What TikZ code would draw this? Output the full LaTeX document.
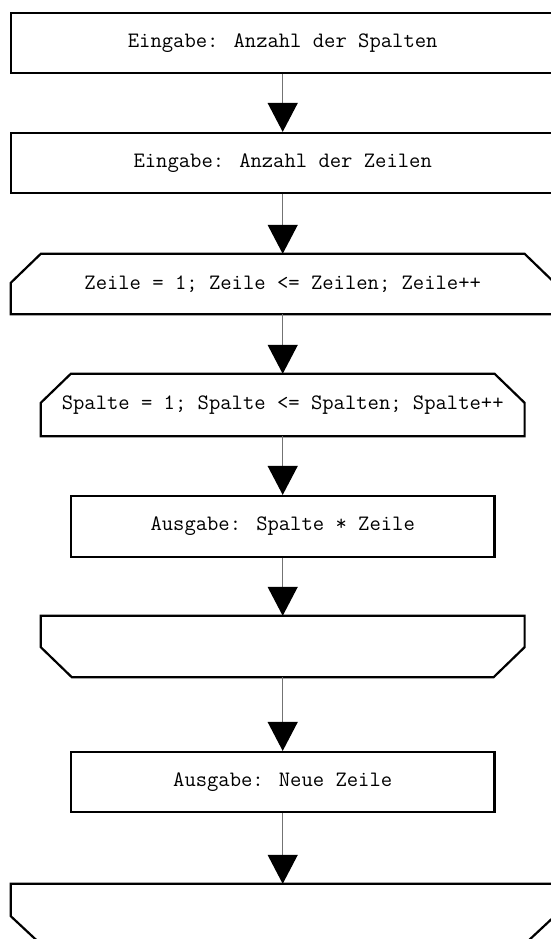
\documentclass[tikz,border=0pt]{standalone}
\usetikzlibrary{arrows.meta}
\begin{document}
\begin{tikzpicture}[x=1pt,y=-1pt,
  boxline/.style={draw=black, line width=2.2pt, line join=miter},
  blk/.style={rectangle, inner sep=0pt, font=\fontsize{22}{26}\selectfont\ttfamily},
  conn/.style={draw=black!55, line width=1.3pt, -{Triangle[width=30pt,length=29pt,color=black]}}]
\useasboundingbox (0,0) rectangle (550,939);
% plain boxes
\node[blk, boxline, minimum width=543.4pt, minimum height=60pt] (b1) at (282.7,43) {Eingabe: Anzahl der Spalten};
\node[blk, boxline, minimum width=543.4pt, minimum height=60pt] (b2) at (282.7,163) {Eingabe: Anzahl der Zeilen};
% loop head 1
\node[blk, minimum width=543.4pt, minimum height=60pt] (h1) at (282.7,284) {Zeile = 1; Zeile <= Zeilen; Zeile++};
\draw[boxline] ([xshift=30pt]h1.north west) -- ([xshift=-30pt]h1.north east) -- ([yshift=-29pt]h1.north east) -- (h1.south east) -- (h1.south west) -- ([yshift=-29pt]h1.north west) -- cycle;
% loop head 2
\node[blk, minimum width=483.4pt, minimum height=62pt] (h2) at (282.7,405) {Spalte = 1; Spalte <= Spalten; Spalte++};
\draw[boxline] ([xshift=30pt]h2.north west) -- ([xshift=-30pt]h2.north east) -- ([yshift=-29pt]h2.north east) -- (h2.south east) -- (h2.south west) -- ([yshift=-29pt]h2.north west) -- cycle;
% inner body
\node[blk, boxline, minimum width=423.4pt, minimum height=61pt] (b3) at (282.7,526.5) {Ausgabe: Spalte * Zeile};
% loop end 2
\node[blk, minimum width=483.4pt, minimum height=61pt] (e2) at (282.7,646.5) {};
\draw[boxline] (e2.north west) -- (e2.north east) -- ([yshift=30pt]e2.south east) -- ([xshift=-31pt]e2.south east) -- ([xshift=31pt]e2.south west) -- ([yshift=30pt]e2.south west) -- cycle;
% new line
\node[blk, boxline, minimum width=423.4pt, minimum height=60pt] (b4) at (282.7,782) {Ausgabe: Neue Zeile};
% loop end 1
\node[blk, minimum width=543.4pt, minimum height=60pt] (e1) at (282.7,914) {};
\draw[boxline] (e1.north west) -- (e1.north east) -- ([yshift=28pt]e1.south east) -- ([xshift=-30pt]e1.south east) -- ([xshift=30pt]e1.south west) -- ([yshift=28pt]e1.south west) -- cycle;
% connectors
\draw[conn] (b1.south) -- (b2.north);
\draw[conn] (b2.south) -- (h1.north);
\draw[conn] (h1.south) -- (h2.north);
\draw[conn] (h2.south) -- (b3.north);
\draw[conn] (b3.south) -- (e2.north);
\draw[conn] (e2.south) -- (b4.north);
\draw[conn] (b4.south) -- (e1.north);
\end{tikzpicture}
\end{document}
